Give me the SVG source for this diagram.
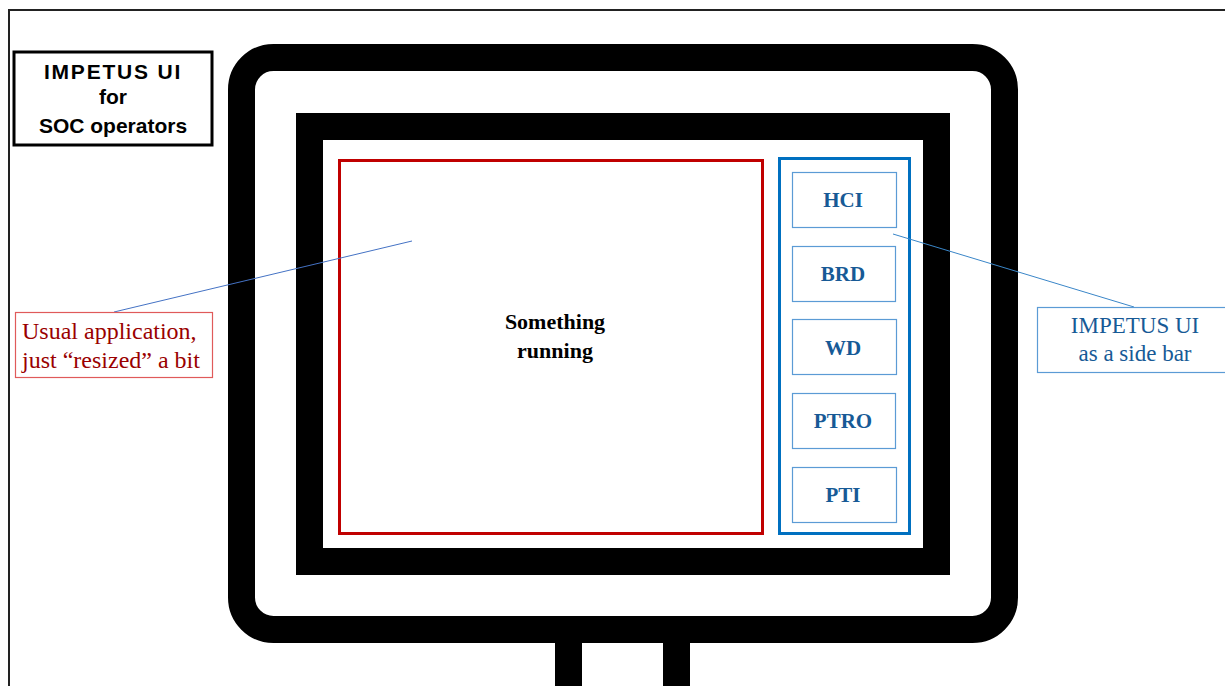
<svg xmlns="http://www.w3.org/2000/svg" width="1225" height="686" viewBox="0 0 1225 686">
<style>
.blk{fill:none;stroke:#000;stroke-width:27}
.sub{fill:#fff;stroke:#5b9bd5;stroke-width:1.2}
.subt{font-family:"Liberation Serif",serif;font-weight:bold;font-size:21px;fill:#175a96;text-anchor:middle}
.ser{font-family:"Liberation Serif",serif;font-size:23px}
.serl{font-family:"Liberation Serif",serif;font-size:24px;fill:#9a0000}
</style>
<rect width="1225" height="686" fill="#fff"/>
<g id="frame">
<path d="M9 686 V10 H1225" fill="none" stroke="#222" stroke-width="2"/>
</g>
<g id="title">
<rect x="14" y="52" width="198" height="93" fill="#fff" stroke="#000" stroke-width="3"/>
<g font-family="Liberation Sans,Arial,sans-serif" font-weight="bold" font-size="21" text-anchor="middle" fill="#000">
<text x="113" y="79" letter-spacing="1.8">IMPETUS UI</text>
<text x="113" y="104">for</text>
<text x="113" y="133">SOC operators</text>
</g>
</g>
<g id="monitor">
<rect x="555" y="630" width="27" height="60" fill="#000"/>
<rect x="663" y="630" width="27" height="60" fill="#000"/>
<rect class="blk" x="241.5" y="57.5" width="763" height="572" rx="32"/>
<rect class="blk" x="309.5" y="126.5" width="627" height="435"/>
</g>
<g id="app">
<rect x="339.5" y="160.5" width="423" height="373" fill="none" stroke="#c00000" stroke-width="3"/>
<text x="555" y="329" font-family="Liberation Serif,serif" font-weight="bold" font-size="22" text-anchor="middle">Something</text>
<text x="555" y="358" font-family="Liberation Serif,serif" font-weight="bold" font-size="22" text-anchor="middle">running</text>
</g>
<g id="sidebar">
<rect x="779.5" y="158.5" width="130" height="375" fill="none" stroke="#0070c0" stroke-width="3"/>
</g>
<g id="hci"><rect class="sub" x="792.5" y="172.5" width="104" height="55"/><text class="subt" x="843" y="207">HCI</text></g>
<g id="brd"><rect class="sub" x="792.5" y="246.5" width="103" height="55"/><text class="subt" x="843" y="281">BRD</text></g>
<g id="wd"><rect class="sub" x="792.5" y="319.5" width="104" height="55"/><text class="subt" x="843" y="355">WD</text></g>
<g id="ptro"><rect class="sub" x="792.5" y="393.5" width="103" height="55"/><text class="subt" x="843" y="428">PTRO</text></g>
<g id="pti"><rect class="sub" x="792.5" y="467.5" width="104" height="55"/><text class="subt" x="843" y="502">PTI</text></g>
<g id="connectors">
<line x1="114" y1="312" x2="412" y2="241" stroke="#4472c4" stroke-width="1"/>
<line x1="893" y1="234" x2="1134" y2="307" stroke="#3a86c8" stroke-width="1"/>
</g>
<g id="callout-left">
<rect x="15.5" y="312.5" width="197" height="65" fill="#fff" stroke="#e05a5a" stroke-width="1.2"/>
<text class="serl" x="22" y="339">Usual application,</text>
<text class="serl" x="22" y="368">just “resized” a bit</text>
</g>
<g id="callout-right">
<rect x="1037.5" y="307.5" width="200" height="65" fill="#fff" stroke="#5b9bd5" stroke-width="1.2"/>
<text class="ser" x="1135" y="333" text-anchor="middle" fill="#175a96">IMPETUS UI</text>
<text class="ser" x="1135" y="361" text-anchor="middle" fill="#175a96">as a side bar</text>
</g>
</svg>
